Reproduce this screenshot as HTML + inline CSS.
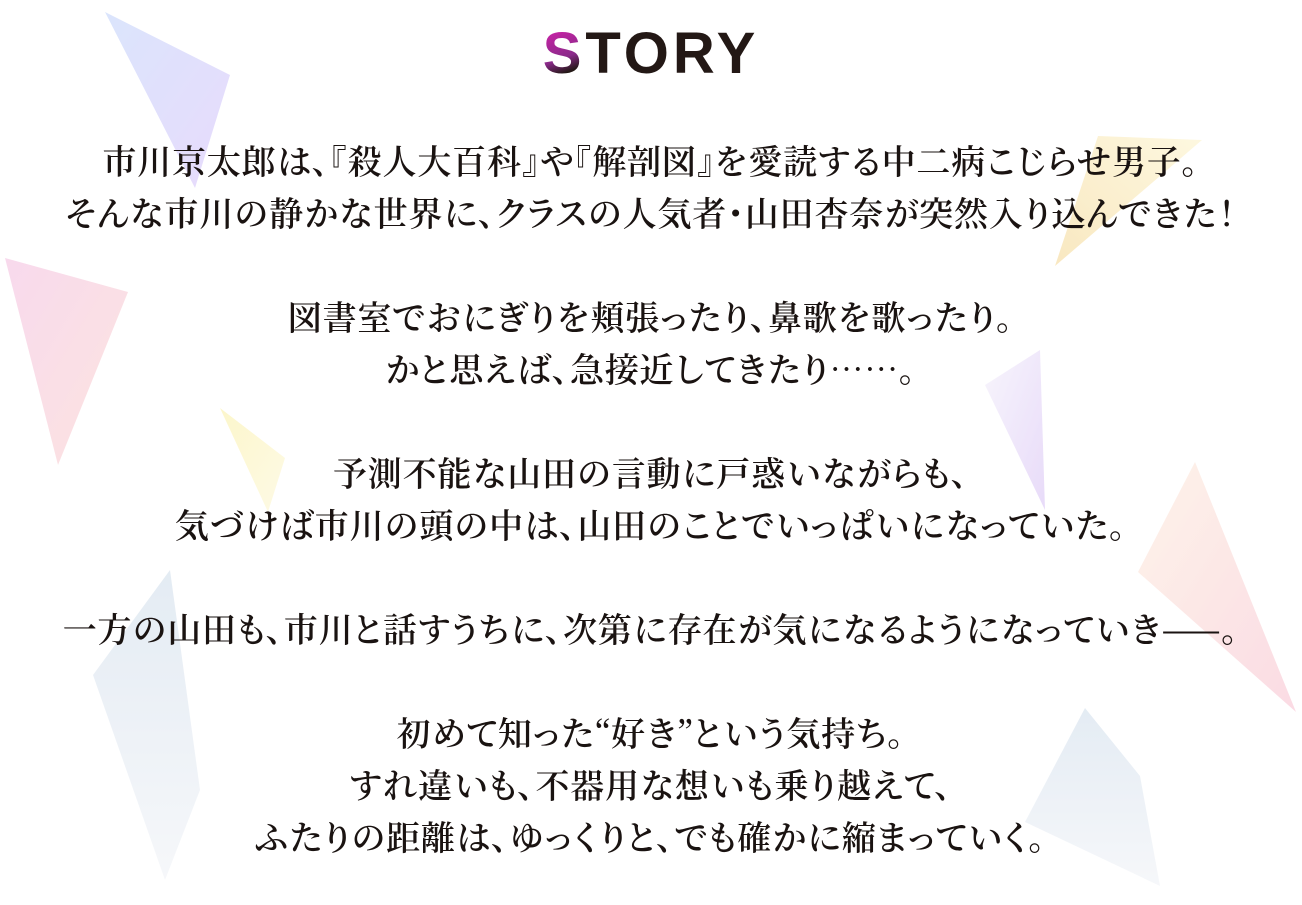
<!DOCTYPE html>
<html><head><meta charset="utf-8"><style>
html,body{margin:0;padding:0;background:#fff;width:1302px;height:905px;overflow:hidden;position:relative}
svg{position:absolute;left:0;top:0}
.t{position:absolute;left:0;width:1302px;text-align:center;font-family:"Noto Serif CJK JP","Noto Serif CJK SC",serif;font-weight:600;font-size:34px;color:#1a1311;line-height:52px;top:134px;white-space:pre;font-feature-settings:"palt" 1;letter-spacing:0.8px}
.h{position:absolute;top:20px;left:0;width:1302px;text-align:center;font-family:"Liberation Sans","DejaVu Sans",sans-serif;font-weight:bold;font-size:58px;color:#231815;letter-spacing:4px}
.h span{background:linear-gradient(160deg,#e020b0,#8a2a8a 55%,#231815 75%);-webkit-background-clip:text;background-clip:text;color:transparent}
</style></head><body>
<svg width="1302" height="905" opacity="0.65">
<defs>
<linearGradient id="g1" x1="0" y1="0" x2="1" y2="1"><stop offset="0" stop-color="#c8d8fb"/><stop offset="1" stop-color="#dcc8fb"/></linearGradient>
<linearGradient id="g2" x1="0" y1="0" x2="1" y2="1"><stop offset="0" stop-color="#f5c6e4"/><stop offset="1" stop-color="#fbd6d0"/></linearGradient>
<linearGradient id="g3" x1="0" y1="0" x2="1" y2="1"><stop offset="0" stop-color="#fbf2b0"/><stop offset="1" stop-color="#fdf8d8"/></linearGradient>
<linearGradient id="g4" x1="1" y1="0" x2="0" y2="1"><stop offset="0" stop-color="#fdf5d0"/><stop offset="1" stop-color="#f6dca0"/></linearGradient>
<linearGradient id="g5" x1="0" y1="0" x2="1" y2="1"><stop offset="0" stop-color="#f4f0fb"/><stop offset="1" stop-color="#dcc8f6"/></linearGradient>
<linearGradient id="g6" x1="0" y1="0" x2="1" y2="1"><stop offset="0" stop-color="#fdeede"/><stop offset="1" stop-color="#f9c8d6"/></linearGradient>
<linearGradient id="g7" x1="0" y1="0" x2="0" y2="1"><stop offset="0" stop-color="#d6e2ee"/><stop offset="1" stop-color="#f2f4f8"/></linearGradient>
</defs>
<polygon points="105,12 230,75 195,188" fill="url(#g1)"/>
<polygon points="5,258 128,292 58,465" fill="url(#g2)"/>
<polygon points="220,408 285,458 268,512" fill="url(#g3)"/>
<polygon points="1098,136 1202,140 1055,266" fill="url(#g4)"/>
<polygon points="985,385 1040,350 1045,510" fill="url(#g5)"/>
<polygon points="1138,572 1195,462 1296,712" fill="url(#g6)"/>
<polygon points="93,675 170,570 200,790 165,880" fill="url(#g7)"/>
<polygon points="1025,822 1085,708 1140,776 1160,886" fill="url(#g7)"/>
</svg>
<div class="h"><span>S</span>TORY</div>
<div class="t">市川京太郎は、『殺人大百科』や『解剖図』を愛読する中二病こじらせ男子。
そんな市川の静かな世界に、クラスの人気者・山田杏奈が突然入り込んできた！

図書室でおにぎりを頬張ったり、鼻歌を歌ったり。
かと思えば、急接近してきたり……。

予測不能な山田の言動に戸惑いながらも、
気づけば市川の頭の中は、山田のことでいっぱいになっていた。

一方の山田も、市川と話すうちに、次第に存在が気になるようになっていき——。

初めて知った“好き”という気持ち。
すれ違いも、不器用な想いも乗り越えて、
ふたりの距離は、ゆっくりと、でも確かに縮まっていく。</div>
</body></html>
